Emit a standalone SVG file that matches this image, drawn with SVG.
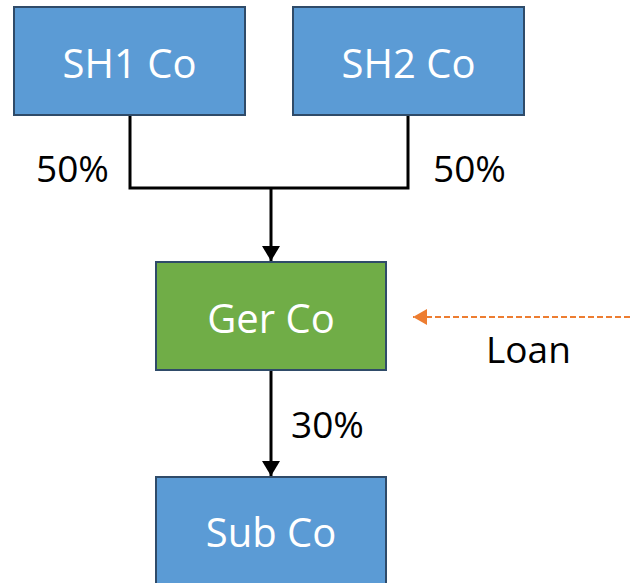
<svg xmlns="http://www.w3.org/2000/svg" width="630" height="583" viewBox="0 0 630 583">
<defs>
<style>
.box{stroke:#2f4b69;stroke-width:2}
.blue{fill:#5b9bd5}
.green{fill:#70ad47}
.nt{font-family:"Open Sans","Liberation Sans",sans-serif;font-size:40px;fill:#fff;text-anchor:middle}
.lb{font-family:"Open Sans","Liberation Sans",sans-serif;font-size:37px;fill:#000}
.ln{fill:none;stroke:#000;stroke-width:3}
.loan{fill:none;stroke:#ed7d31;stroke-width:2;stroke-dasharray:6 3}
</style>
<marker id="ah" markerWidth="6" markerHeight="6" refX="5" refY="3" orient="auto" markerUnits="strokeWidth"><path d="M0,0 L5,3 L0,6 Z" fill="#000"/></marker>
<marker id="ao" markerWidth="8" markerHeight="8" refX="7" refY="4" orient="auto" markerUnits="strokeWidth"><path d="M0,0 L7,4 L0,8 Z" fill="#ed7d31"/></marker>
</defs>
<g id="connectors">
<path class="ln" d="M130,115 V188 H408 V115"/>
<path class="ln" d="M271,188 V261" marker-end="url(#ah)"/>
<path class="ln" d="M271,370 V476" marker-end="url(#ah)"/>
<path class="loan" d="M630,317 H413" marker-end="url(#ao)"/>
<text class="lb" x="36" y="182">50%</text>
<text class="lb" x="433" y="182">50%</text>
<text class="lb" x="291" y="438">30%</text>
<text class="lb" x="486" y="363">Loan</text>
</g>
<g id="sh1">
<rect class="box blue" x="14" y="7" width="231" height="108"/>
<text class="nt" x="129.5" y="78">SH1 Co</text>
</g>
<g id="sh2">
<rect class="box blue" x="293" y="7" width="231" height="108"/>
<text class="nt" x="408.5" y="78">SH2 Co</text>
</g>
<g id="ger">
<rect class="box green" x="156" y="262" width="230" height="108"/>
<text class="nt" x="271" y="333">Ger Co</text>
</g>
<g id="sub">
<rect class="box blue" x="156" y="477" width="230" height="120"/>
<text class="nt" x="271" y="547">Sub Co</text>
</g>
</svg>
